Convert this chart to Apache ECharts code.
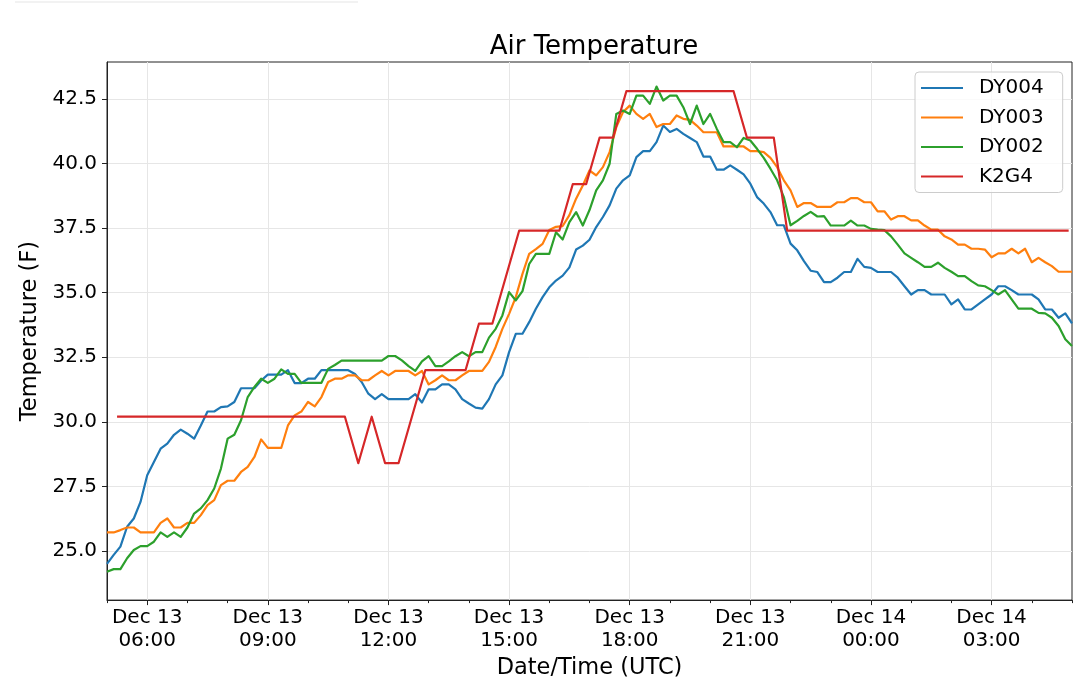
<!DOCTYPE html>
<html>
<head>
<meta charset="utf-8">
<title>Air Temperature</title>
<script src="https://cdn.jsdelivr.net/npm/echarts@6.0.0/dist/echarts.min.js"></script>
<style>
  html, body { margin: 0; padding: 0; background: #fff; }
  #chart { width: 1080px; height: 685px; }
</style>
</head>
<body>
<div id="chart"></div>
<script>
// DY stations report every 10 min from Dec 13 05:00 UTC, K2G4 every 20 min from 05:15
var dyStartHour = 5, dyStepMin = 10;
var k2g4StartHour = 5.25, k2g4StepMin = 20;

var dy004 = [
  24.5, 24.85, 25.17, 25.94, 26.26, 26.9, 27.93, 28.45, 28.96, 29.16,
  29.5, 29.7, 29.54, 29.35, 29.86, 30.4, 30.4, 30.57, 30.6, 30.77,
  31.3, 31.3, 31.3, 31.6, 31.83, 31.83, 31.83, 32.0, 31.5, 31.5,
  31.67, 31.67, 32.0, 32.0, 32.0, 32.0, 32.0, 31.85, 31.54, 31.09,
  30.88, 31.07, 30.88, 30.88, 30.88, 30.88, 31.07, 30.75, 31.26, 31.26,
  31.45, 31.45, 31.26, 30.88, 30.71, 30.55, 30.51, 30.88, 31.45, 31.8,
  32.7, 33.41, 33.41, 33.86, 34.38, 34.83, 35.21, 35.47, 35.66, 35.98,
  36.67, 36.82, 37.05, 37.54, 37.93, 38.38, 39.03, 39.35, 39.54, 40.25,
  40.48, 40.48, 40.83, 41.47, 41.22, 41.34, 41.15, 40.99, 40.83, 40.27,
  40.27, 39.76, 39.76, 39.93, 39.76, 39.58, 39.22, 38.7, 38.45, 38.12,
  37.61, 37.61, 36.9, 36.64, 36.22, 35.85, 35.8, 35.41, 35.41, 35.58,
  35.8, 35.8, 36.31, 36.0, 35.96, 35.8, 35.8, 35.8, 35.58, 35.25,
  34.93, 35.1, 35.1, 34.93, 34.93, 34.93, 34.55, 34.74, 34.35, 34.35,
  34.55, 34.74, 34.93, 35.25, 35.25, 35.1, 34.93, 34.93, 34.93, 34.74,
  34.35, 34.35, 34.03, 34.2, 33.81
];
var dy003 = [
  25.72, 25.72, 25.81, 25.91, 25.91, 25.72, 25.72, 25.72, 26.09, 26.26,
  25.91, 25.91, 26.09, 26.09, 26.39, 26.78, 26.97, 27.55, 27.72, 27.72,
  28.06, 28.26, 28.64, 29.32, 28.99, 28.99, 28.99, 29.86, 30.25, 30.4,
  30.77, 30.6, 30.96, 31.54, 31.67, 31.67, 31.8, 31.8, 31.61, 31.61,
  31.8, 31.97, 31.8, 31.97, 31.97, 31.97, 31.8, 31.97, 31.45, 31.61,
  31.8, 31.61, 31.61, 31.8, 31.97, 31.97, 31.97, 32.32, 32.9, 33.6,
  34.18, 34.83, 35.73, 36.5, 36.69, 36.89, 37.43, 37.55, 37.58, 38.0,
  38.64, 39.15, 39.73, 39.54, 39.86, 40.44, 41.41, 41.99, 42.24, 41.92,
  41.73, 41.92, 41.41, 41.53, 41.53, 41.86, 41.73, 41.69, 41.47, 41.21,
  41.21, 41.21, 40.66, 40.66, 40.66, 40.66, 40.48, 40.48, 40.44, 40.22,
  39.86, 39.35, 38.96, 38.32, 38.47, 38.47, 38.32, 38.32, 38.32, 38.5,
  38.5, 38.66, 38.66, 38.5, 38.5, 38.15, 38.15, 37.83, 37.96, 37.96,
  37.8, 37.8, 37.6, 37.44, 37.44, 37.18, 37.06, 36.86, 36.86, 36.7,
  36.7, 36.67, 36.37, 36.52, 36.52, 36.7, 36.52, 36.7, 36.18, 36.35,
  36.18, 36.03, 35.81, 35.81, 35.81
];
var dy002 = [
  24.2, 24.3, 24.3, 24.72, 25.04, 25.19, 25.19, 25.36, 25.72, 25.55,
  25.72, 25.55, 25.91, 26.45, 26.65, 26.97, 27.42, 28.19, 29.35, 29.5,
  30.06, 30.96, 31.35, 31.67, 31.51, 31.67, 32.03, 31.86, 31.86, 31.51,
  31.51, 31.51, 31.51, 32.05, 32.2, 32.37, 32.37, 32.37, 32.37, 32.37,
  32.37, 32.37, 32.55, 32.55, 32.38, 32.16, 31.97, 32.34, 32.54, 32.16,
  32.16, 32.34, 32.54, 32.7, 32.54, 32.7, 32.7, 33.26, 33.6, 34.12,
  35.02, 34.7, 35.06, 36.11, 36.5, 36.5, 36.5, 37.34, 37.06, 37.73,
  38.12, 37.6, 38.2, 38.96, 39.35, 39.99, 41.92, 42.05, 41.92, 42.63,
  42.63, 42.31, 42.98, 42.44, 42.63, 42.63, 42.18, 41.53, 42.24, 41.53,
  41.92, 41.34, 40.83, 40.83, 40.63, 40.99, 40.89, 40.57, 40.22, 39.8,
  39.35, 38.7, 37.61, 37.78, 37.97, 38.13, 37.95, 37.96, 37.6, 37.6,
  37.6, 37.79, 37.6, 37.6, 37.47, 37.44, 37.42, 37.18, 36.86, 36.52,
  36.35, 36.18, 36.0, 36.0, 36.16, 35.96, 35.81, 35.64, 35.64, 35.45,
  35.28, 35.25, 35.1, 34.93, 35.1, 34.74, 34.38, 34.38, 34.38, 34.22,
  34.2, 34.03, 33.71, 33.2, 32.94
];
var k2g4 = [
  30.2, 30.2, 30.2, 30.2, 30.2, 30.2, 30.2, 30.2, 30.2, 30.2,
  30.2, 30.2, 30.2, 30.2, 30.2, 30.2, 30.2, 30.2,
  28.4, 30.2, 28.4, 28.4, 30.2,
  32.0, 32.0, 32.0, 32.0,
  33.8, 33.8, 35.6,
  37.4, 37.4, 37.4, 37.4,
  39.2, 39.2, 41.0, 41.0,
  42.8, 42.8, 42.8, 42.8, 42.8, 42.8, 42.8, 42.8, 42.8,
  41.0, 41.0, 41.0,
  37.4, 37.4, 37.4, 37.4, 37.4, 37.4, 37.4, 37.4, 37.4, 37.4, 37.4,
  37.4, 37.4, 37.4, 37.4, 37.4, 37.4, 37.4, 37.4, 37.4, 37.4, 37.4
];

var seriesNames = ['DY004', 'DY003', 'DY002', 'K2G4'];
var seriesColors = ['#1f77b4', '#ff7f0e', '#2ca02c', '#d62728'];

// x is hours since Dec 13 00:00 UTC
var majorTickHours = [6, 9, 12, 15, 18, 21, 24, 27];
var majorTickLabels = ['Dec 13\n06:00', 'Dec 13\n09:00', 'Dec 13\n12:00', 'Dec 13\n15:00',
                       'Dec 13\n18:00', 'Dec 13\n21:00', 'Dec 14\n00:00', 'Dec 14\n03:00'];
var minorTickHours = [5, 6, 7, 8, 9, 10, 11, 12, 13, 14, 15, 16, 17, 18, 19, 20, 21,
                      22, 23, 24, 25, 26, 27, 28, 29];
var tempTicks = [25, 27.5, 30, 32.5, 35, 37.5, 40, 42.5];

function toPairs(values, startHour, stepMin) {
  return values.map(function (v, i) {
    return [startHour + i * stepMin / 60, v];
  });
}

var chart = echarts.init(document.getElementById('chart'), null, { renderer: 'canvas' });
var font = 'DejaVu Sans';
var spine = '#222';

function lineSeries(idx, data) {
  return {
    name: seriesNames[idx],
    type: 'line',
    data: data,
    symbol: 'none',
    smooth: false,
    color: seriesColors[idx],
    lineStyle: { width: 2.2, color: seriesColors[idx], join: 'round' },
    emphasis: { disabled: true },
    clip: true
  };
}

var option = {
  animation: false,
  backgroundColor: '#fff',
  textStyle: { fontFamily: font },
  title: {
    text: 'Air Temperature',
    left: 589,
    top: 29,
    textAlign: 'center',
    textStyle: { fontFamily: font, fontSize: 26, fontWeight: 'normal', color: '#000' }
  },
  legend: {
    orient: 'vertical',
    left: 915,
    top: 72,
    padding: [6, 19, 6, 6],
    icon: 'rect',
    itemWidth: 42,
    itemHeight: 2,
    itemGap: 9.5,
    backgroundColor: 'rgba(255,255,255,0.8)',
    borderColor: '#cccccc',
    borderWidth: 1,
    borderRadius: 4,
    textStyle: { fontFamily: font, fontSize: 20, color: '#000', lineHeight: 20, padding: [0, 0, 0, 11] },
    data: seriesNames
  },
  grid: {
    left: 107,
    top: 62,
    width: 965,
    height: 540,
    show: true,
    borderColor: spine,
    borderWidth: 1,
    backgroundColor: 'transparent'
  },
  xAxis: [
    {
      type: 'value',
      position: 'bottom',
      min: 5,
      max: 29,
      name: 'Date/Time (UTC)',
      nameLocation: 'middle',
      nameGap: 52,
      nameTextStyle: { fontFamily: font, fontSize: 22.5, color: '#000' },
      axisLine: { show: true, lineStyle: { color: spine, width: 1 } },
      axisTick: { show: true, length: 5, customValues: majorTickHours, lineStyle: { color: spine, width: 1 } },
      axisLabel: {
        customValues: majorTickHours,
        margin: 6,
        fontFamily: font,
        fontSize: 20,
        lineHeight: 23,
        color: '#000',
        formatter: function (v) {
          var k = majorTickHours.indexOf(v);
          return k >= 0 ? majorTickLabels[k] : '';
        }
      },
      splitLine: { show: true, lineStyle: { color: '#e6e6e6', width: 1 } }
    },
    {
      type: 'value',
      position: 'bottom',
      min: 5,
      max: 29,
      axisLine: { show: false },
      axisTick: { show: true, length: 3, customValues: minorTickHours, lineStyle: { color: spine, width: 1 } },
      axisLabel: { show: false },
      splitLine: { show: false }
    }
  ],
  yAxis: {
    type: 'value',
    min: 23.1,
    max: 43.93,
    name: 'Temperature (F)',
    nameLocation: 'middle',
    nameGap: 63,
    nameTextStyle: { fontFamily: font, fontSize: 22.5, color: '#000' },
    axisLine: { show: true, lineStyle: { color: spine, width: 1 } },
    axisTick: { show: true, length: 5, customValues: tempTicks, lineStyle: { color: spine, width: 1 } },
    axisLabel: {
      customValues: tempTicks,
      margin: 10,
      fontFamily: font,
      fontSize: 20,
      color: '#000',
      formatter: function (v) { return v.toFixed(1); }
    },
    splitLine: { show: true, lineStyle: { color: '#e6e6e6', width: 1 } }
  },
  graphic: [
    { type: 'line', shape: { x1: 15, y1: 2, x2: 358, y2: 2 }, style: { stroke: '#eeeeee', lineWidth: 1.5 }, silent: true }
  ],
  series: [
    lineSeries(0, toPairs(dy004, dyStartHour, dyStepMin)),
    lineSeries(1, toPairs(dy003, dyStartHour, dyStepMin)),
    lineSeries(2, toPairs(dy002, dyStartHour, dyStepMin)),
    lineSeries(3, toPairs(k2g4, k2g4StartHour, k2g4StepMin))
  ]
};

chart.setOption(option);
</script>
</body>
</html>
